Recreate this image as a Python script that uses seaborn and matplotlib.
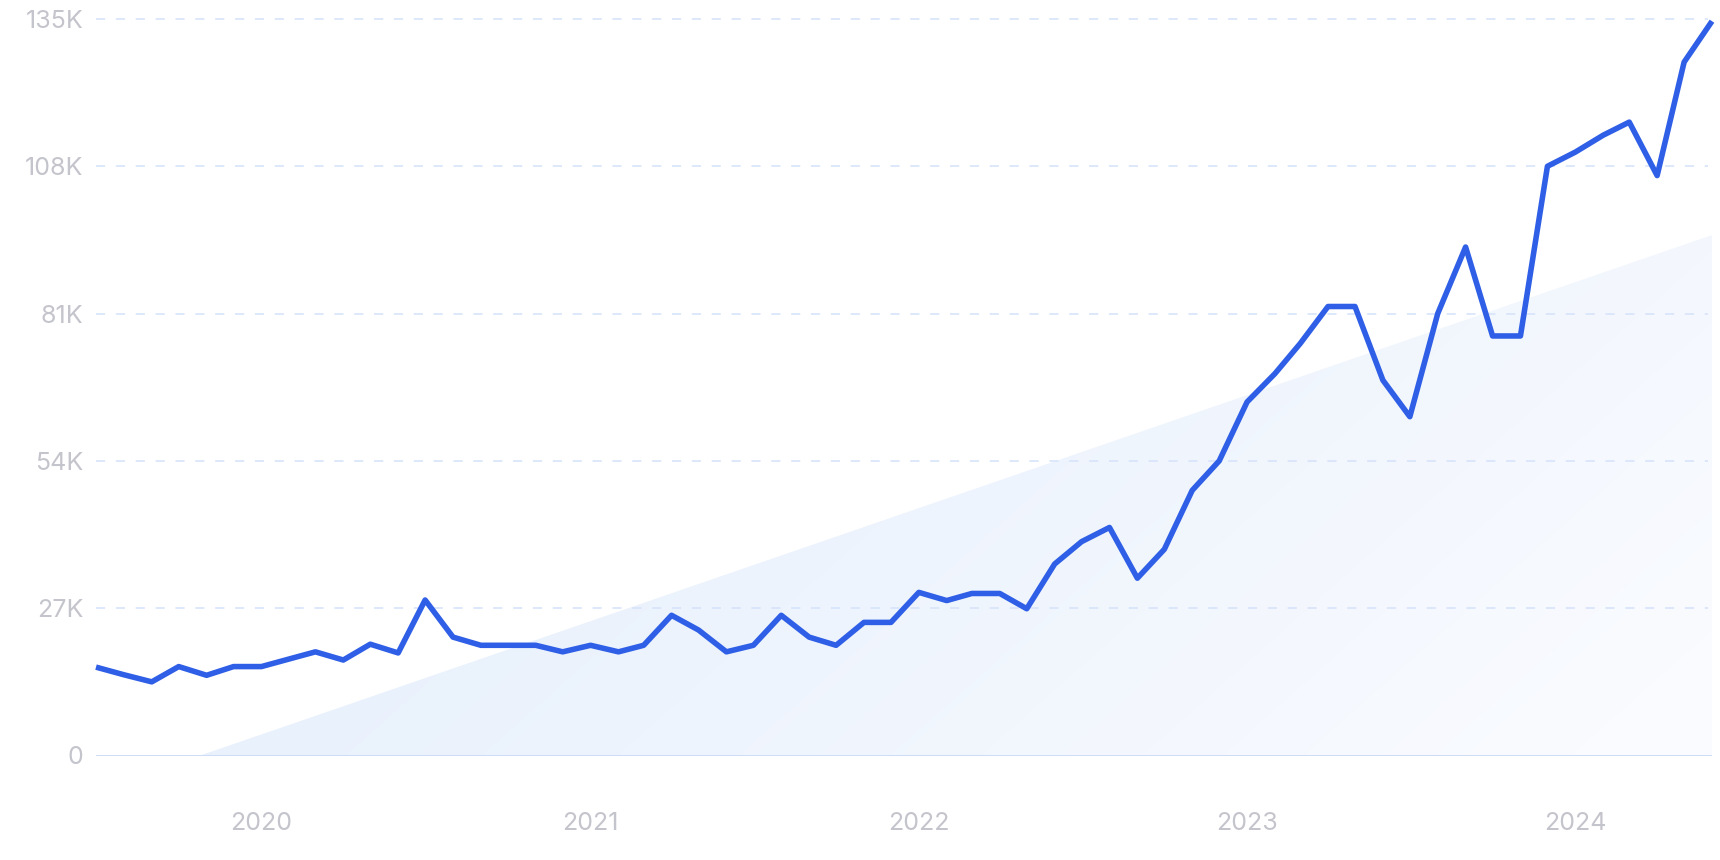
import numpy as np
import pandas as pd
import matplotlib
matplotlib.use("Agg")
import matplotlib.pyplot as plt
import matplotlib.dates as mdates
from matplotlib.patches import Polygon
from matplotlib.colors import to_rgb
import seaborn as sns

# ---------------- data ----------------
months = pd.date_range("2019-07-01", "2024-06-01", freq="MS")
values = [
    16.2, 14.8, 13.5, 16.3, 14.7, 16.3,                                   # 2019 Jul-Dec
    16.3, 17.7, 19.0, 17.5, 20.4, 18.8, 28.5, 21.7, 20.2, 20.2, 20.2, 19.0,  # 2020
    20.2, 19.0, 20.2, 25.7, 23.0, 19.0, 20.2, 25.7, 21.7, 20.2, 24.4, 24.4,  # 2021
    29.9, 28.4, 29.7, 29.7, 26.9, 35.1, 39.2, 41.8, 32.5, 37.8, 48.6, 54.0,  # 2022
    64.8, 70.0, 75.5, 82.3, 82.3, 68.8, 62.1, 81.0, 93.2, 76.9, 76.9, 108.0, # 2023
    110.6, 113.7, 116.1, 106.3, 127.1, 134.6,                                # 2024 Jan-Jun
]
values = [v * 1000 for v in values]

trend_dates = [pd.Timestamp("2019-10-25"), pd.Timestamp("2024-06-01")]
trend_values = [0, 95400]

y_ticks = [0, 27000, 54000, 81000, 108000, 135000]
y_tick_labels = ["0", "27K", "54K", "81K", "108K", "135K"]
x_tick_years = [2020, 2021, 2022, 2023, 2024]

df = pd.DataFrame({"date": months, "value": values})

# ---------------- style ----------------
sns.set_theme(style="white")
plt.rcParams["font.family"] = ["Inter", "DejaVu Sans"]

LINE = "#2f5fe6"
GRID = "#d5e2fb"
BASE = "#cddcf6"
TICK = "#c4c4cc"

fig = plt.figure(figsize=(17.2, 8.6), dpi=100)
W, H = 1720, 860
left_px, right_px = 96, 1712
top_px, bottom_px = 19, 755.5
ax = fig.add_axes([left_px / W, 1 - bottom_px / H,
                   (right_px - left_px) / W, (bottom_px - top_px) / H])

x0 = mdates.date2num(months[0])
x1 = mdates.date2num(months[-1])
ax.set_xlim(x0, x1)
ax.set_ylim(0, 135000)

# gradient-filled trend triangle
tx = mdates.date2num(trend_dates)
tri = Polygon([(tx[0], trend_values[0]), (tx[1], trend_values[1]), (tx[1], 0)],
              closed=True, facecolor="none", edgecolor="none")
ax.add_patch(tri)
nx, ny = 400, 200
u = np.linspace(0, 1, nx)[None, :]
v = np.linspace(1, 0, ny)[:, None]  # top row -> v=1
t = np.clip(0.62 * u + 0.38 * (1 - v) - 0.12 * (1 - u), 0, 1)
c0 = np.array(to_rgb("#e0ecfb"))
c1 = np.array(to_rgb("#fbfcff"))
img = (c0[None, None, :] * (1 - t[..., None]) + c1[None, None, :] * t[..., None])
im = ax.imshow(img, extent=[x0, x1, 0, 135000], aspect="auto", origin="upper",
               zorder=1, interpolation="bilinear")
im.set_clip_path(tri)

# grid lines
for yv in y_ticks[1:]:
    ax.plot([x0, x1 - 5], [yv, yv], color=GRID, lw=1.1, ls=(0, (6, 7)),
            zorder=2, clip_on=False)
ax.axhline(0, color=BASE, lw=1.4, zorder=2)

# main line
sns.lineplot(data=df, x="date", y="value", ax=ax, color=LINE, lw=4.0,
             zorder=3, clip_on=False, solid_joinstyle="round",
             solid_capstyle="butt")

# ticks
ax.set_yticks(y_ticks)
ax.set_yticklabels(y_tick_labels)
ax.set_xticks([mdates.date2num(pd.Timestamp(f"{y}-01-01")) for y in x_tick_years])
ax.set_xticklabels([str(y) for y in x_tick_years])
ax.tick_params(axis="y", length=0, pad=9, labelsize=18, labelcolor=TICK)
ax.tick_params(axis="x", length=0, pad=41, labelsize=18, labelcolor=TICK)
ax.set_xlabel("")
ax.set_ylabel("")
for s in ax.spines.values():
    s.set_visible(False)
ax.grid(False)
ax.set_facecolor("none")
fig.patch.set_facecolor("white")

fig.savefig("out.png", dpi=100, facecolor="white")
